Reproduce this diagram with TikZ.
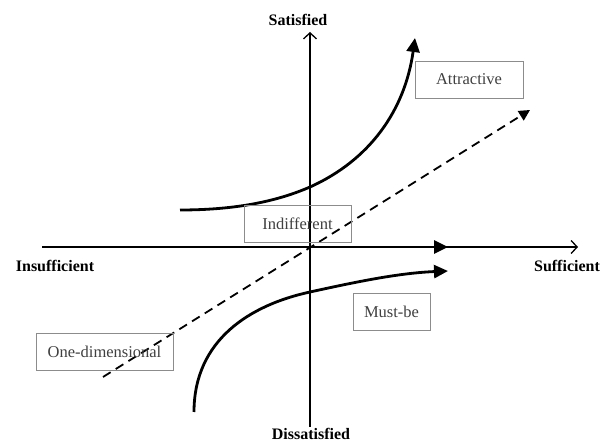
\documentclass[tikz,border=0pt]{standalone}
\usepackage{fontspec}
\setmainfont{Liberation Serif}
\usetikzlibrary{arrows.meta}

\begin{document}
\begin{tikzpicture}[x=1pt, y=-1pt,
  axis/.style={draw=black, line width=1.3pt, -{Straight Barb[length=6pt, width=13pt, line width=1.3pt]}},
  curve/.style={draw=black, line width=2.8pt, -{Triangle[length=14pt, width=13pt]}},
  linear/.style={draw=black, line width=1.8pt, dash pattern=on 9pt off 6pt, -{Triangle[length=11pt, width=11pt]}},
  pole/.style={font=\fontsize{16}{19}\selectfont\bfseries, inner sep=0pt},
  kind/.style={draw=black!45, line width=0.8pt, text=black!75, inner sep=0pt, minimum height=37pt, font=\fontsize{16.5}{19}\selectfont},
]
  \useasboundingbox (0,0) rectangle (611,443);
  % axes
  \coordinate (xl) at (42,247);
  \coordinate (xr) at (578,247);
  \coordinate (yb) at (310,427);
  \coordinate (yt) at (310,32);
  \draw[axis] (xl) -- (xr);
  \draw[axis] (yb) -- (yt);
  \node[pole] (sat) at (298,20) {Satisfied};
  \node[pole] (dis) at (311,434) {Dissatisfied};
  \node[pole] (ins) at (55,266) {Insufficient};
  \node[pole] (suf) at (567,266) {Sufficient};
  % quality categories
  \coordinate (ind0) at (185,247);
  \coordinate (ind1) at (448,247);
  \draw[curve] (ind0) -- (ind1);
  \coordinate (lin0) at (103,377);
  \coordinate (lin1) at (530,110);
  \draw[linear] (lin0) -- (lin1);
  \draw[curve] (180,210) .. controls (240,210) and (280,200) .. (310,187)
    .. controls (370,160) and (405,110) .. (415,38);
  \draw[curve] (194,412) .. controls (194,340) and (250,305) .. (310,292)
    .. controls (360,281) and (400,273) .. (448,271);
  \node[kind, minimum width=108pt] (attr) at (469,79.5) {Attractive};
  \node[kind, minimum width=107pt] (indif) at (297.5,224) {Indifferent};
  \node[kind, minimum width=77pt] (must) at (391.5,312) {Must-be};
  \node[kind, minimum width=137pt] (onedim) at (104.5,351.5) {One-dimensional};
\end{tikzpicture}
\end{document}
